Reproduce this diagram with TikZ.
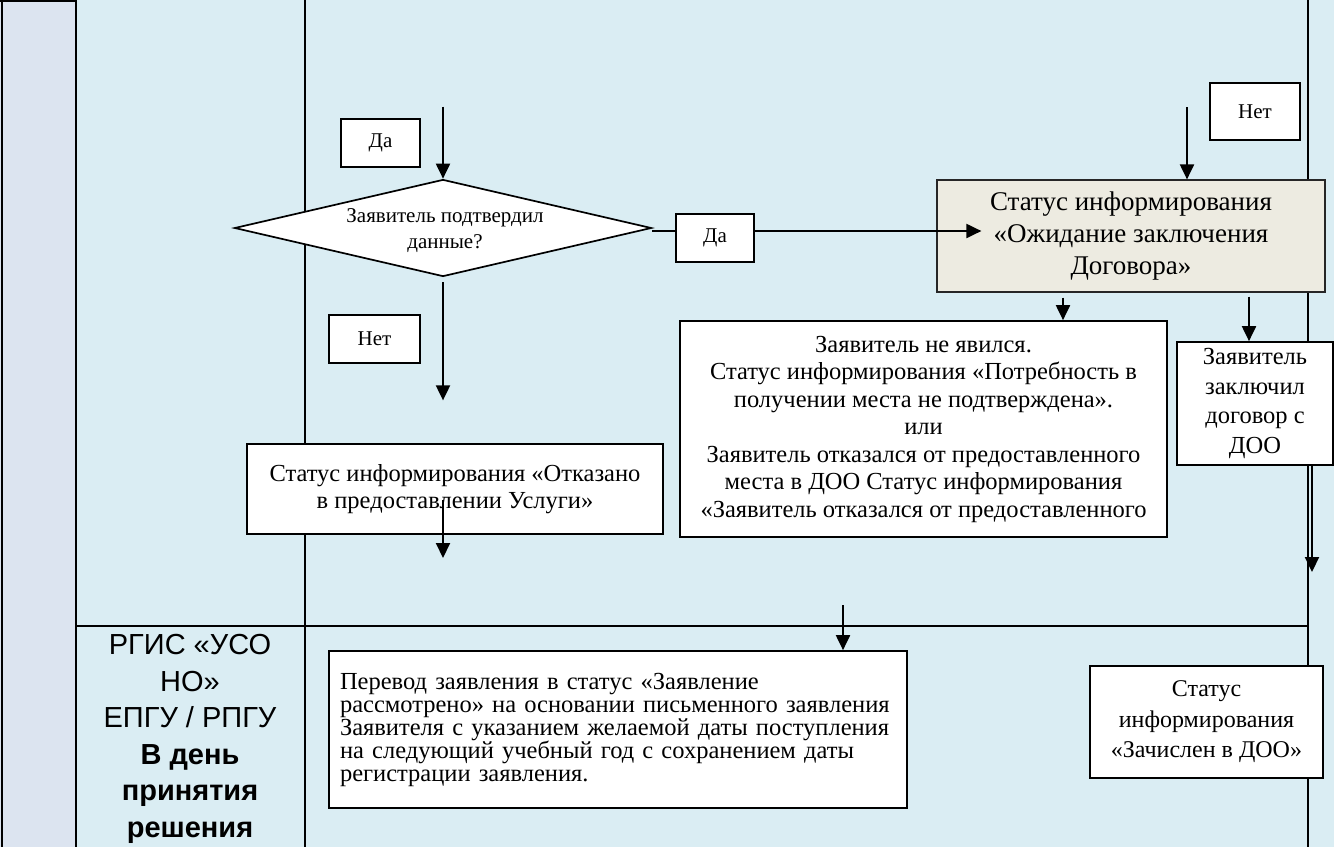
\documentclass[tikz,border=0pt]{standalone}
\usepackage{fontspec}
\setmainfont{Liberation Serif}
\newfontfamily\lanefont{Liberation Sans}
\usetikzlibrary{shapes.geometric,arrows.meta}
\definecolor{lanebg}{HTML}{DAEDF3}
\definecolor{headbg}{HTML}{DCE4F0}
\definecolor{beige}{HTML}{EDEBE1}
\begin{document}
\begin{tikzpicture}[x=1pt,y=-1pt,
  box/.style={draw=black, line width=1.7pt, fill=white, inner sep=0pt, align=center},
  arr/.style={line width=2pt, -{Triangle[length=15pt,width=14pt]}},
  plain/.style={line width=2pt},
  lane/.style={line width=2.4pt},
  txt/.style={font=\fontsize{24.5}{27.5}\selectfont},
  small/.style={font=\fontsize{21}{26}\selectfont},
]
\useasboundingbox (0,0) rectangle (1334,847);
% swimlane background
\fill[lanebg] (0,0) rectangle (1334,847);
\fill[headbg] (0,0) rectangle (76,847);
\draw[lane] (2,0) -- (2,847);
\draw[lane] (0,1.2) -- (76,1.2);
\draw[lane] (76,0) -- (76,847);
\draw[lane] (305,0) -- (305,847);
\draw[lane] (76,626) -- (1308,626);
\draw[lane] (1308,0) -- (1308,847);

% lane label
\node[font=\lanefont\fontsize{29}{36.5}\selectfont, align=center] (lanelbl) at (190,739)
  {РГИС «УСО\\НО»\\ЕПГУ / РПГУ\\\textbf{В день}\\\textbf{принятия}\\\textbf{решения}};

% decision
\node[box, small, minimum width=79, minimum height=48] (da1) at (380.5,143) {Да};
\node[draw=black, line width=1.7pt, fill=white, diamond, minimum width=417, minimum height=97, inner sep=0pt] (dia) at (443,228) {};
\node[small, align=center] (diatext) at (445,231) {Заявитель подтвердил\\данные?};
\draw[arr] (dia.north) ++(0,-72) -- (dia.north);

\node[box, small, minimum width=78, minimum height=48] (da2) at (715,238) {Да};
\coordinate (yline) at (0,231);
\draw[plain] (dia.east |- yline) -- (da2.west |- yline);

\node[box, fill=beige, draw=black!85, line width=1.2pt, minimum width=388, minimum height=112,
      font=\fontsize{27}{32}\selectfont] (st1) at (1131,236)
  {Статус информирования\\«Ожидание заключения\\Договора»};
\draw[arr] (da2.east |- yline) -- ([xshift=45pt]st1.west |- yline);

\node[box, small, minimum width=90, minimum height=57] (net1) at (1255,111.5) {Нет};
\coordinate (n1top) at (1187,107);
\draw[arr] (n1top) -- (n1top |- st1.north);

% no branch
\node[box, small, minimum width=91, minimum height=48] (net2) at (374.5,339) {Нет};
\draw[arr] (dia.south) ++(0,5) -- ++(0,118);
\node[box, txt, minimum width=416, minimum height=90] (otk) at (455,489)
  {Статус информирования «Отказано\\в предоставлении Услуги»};
\draw[arr] (otk.center) ++(-12,11) -- ++(0,58);

% after waiting status
\node[box, txt, minimum width=487, minimum height=216] (big) at (923.5,429)
  {Заявитель не явился.\\Статус информирования «Потребность в\\получении места не подтверждена».\\или\\Заявитель отказался от предоставленного\\места в ДОО Статус информирования\\«Заявитель отказался от предоставленного};
\coordinate (a1) at (1063,0);
\draw[arr] (a1 |- st1.south) ++(0,5) -- (a1 |- big.north);

\node[box, font=\fontsize{24.5}{29.5}\selectfont, minimum width=156, minimum height=123] (rb) at (1255,403.5)
  {Заявитель\\заключил\\договор с\\ДОО};
\coordinate (a2) at (1249,0);
\draw[arr] (a2 |- st1.south) ++(0,4) -- (a2 |- rb.north);

\coordinate (a3) at (1312,572);
\draw[arr] (a3 |- rb.south) -- (a3);

% lower lane
\node[box, font=\fontsize{24.5}{23}\selectfont, text width=556pt, align=left, inner xsep=11pt,
      minimum height=157] (bot) at (618,729.5)
  {Перевод заявления в статус «Заявление\\рассмотрено» на основании письменного заявления\\Заявителя с указанием желаемой даты поступления\\на следующий учебный год с сохранением даты\\регистрации заявления.};
\coordinate (a4) at (843,605);
\draw[arr] (a4) -- (a4 |- bot.north);

\node[box, font=\fontsize{24}{30.5}\selectfont, minimum width=233, minimum height=112] (zach) at (1206.5,722)
  {Статус\\информирования\\«Зачислен в ДОО»};
\end{tikzpicture}
\end{document}
